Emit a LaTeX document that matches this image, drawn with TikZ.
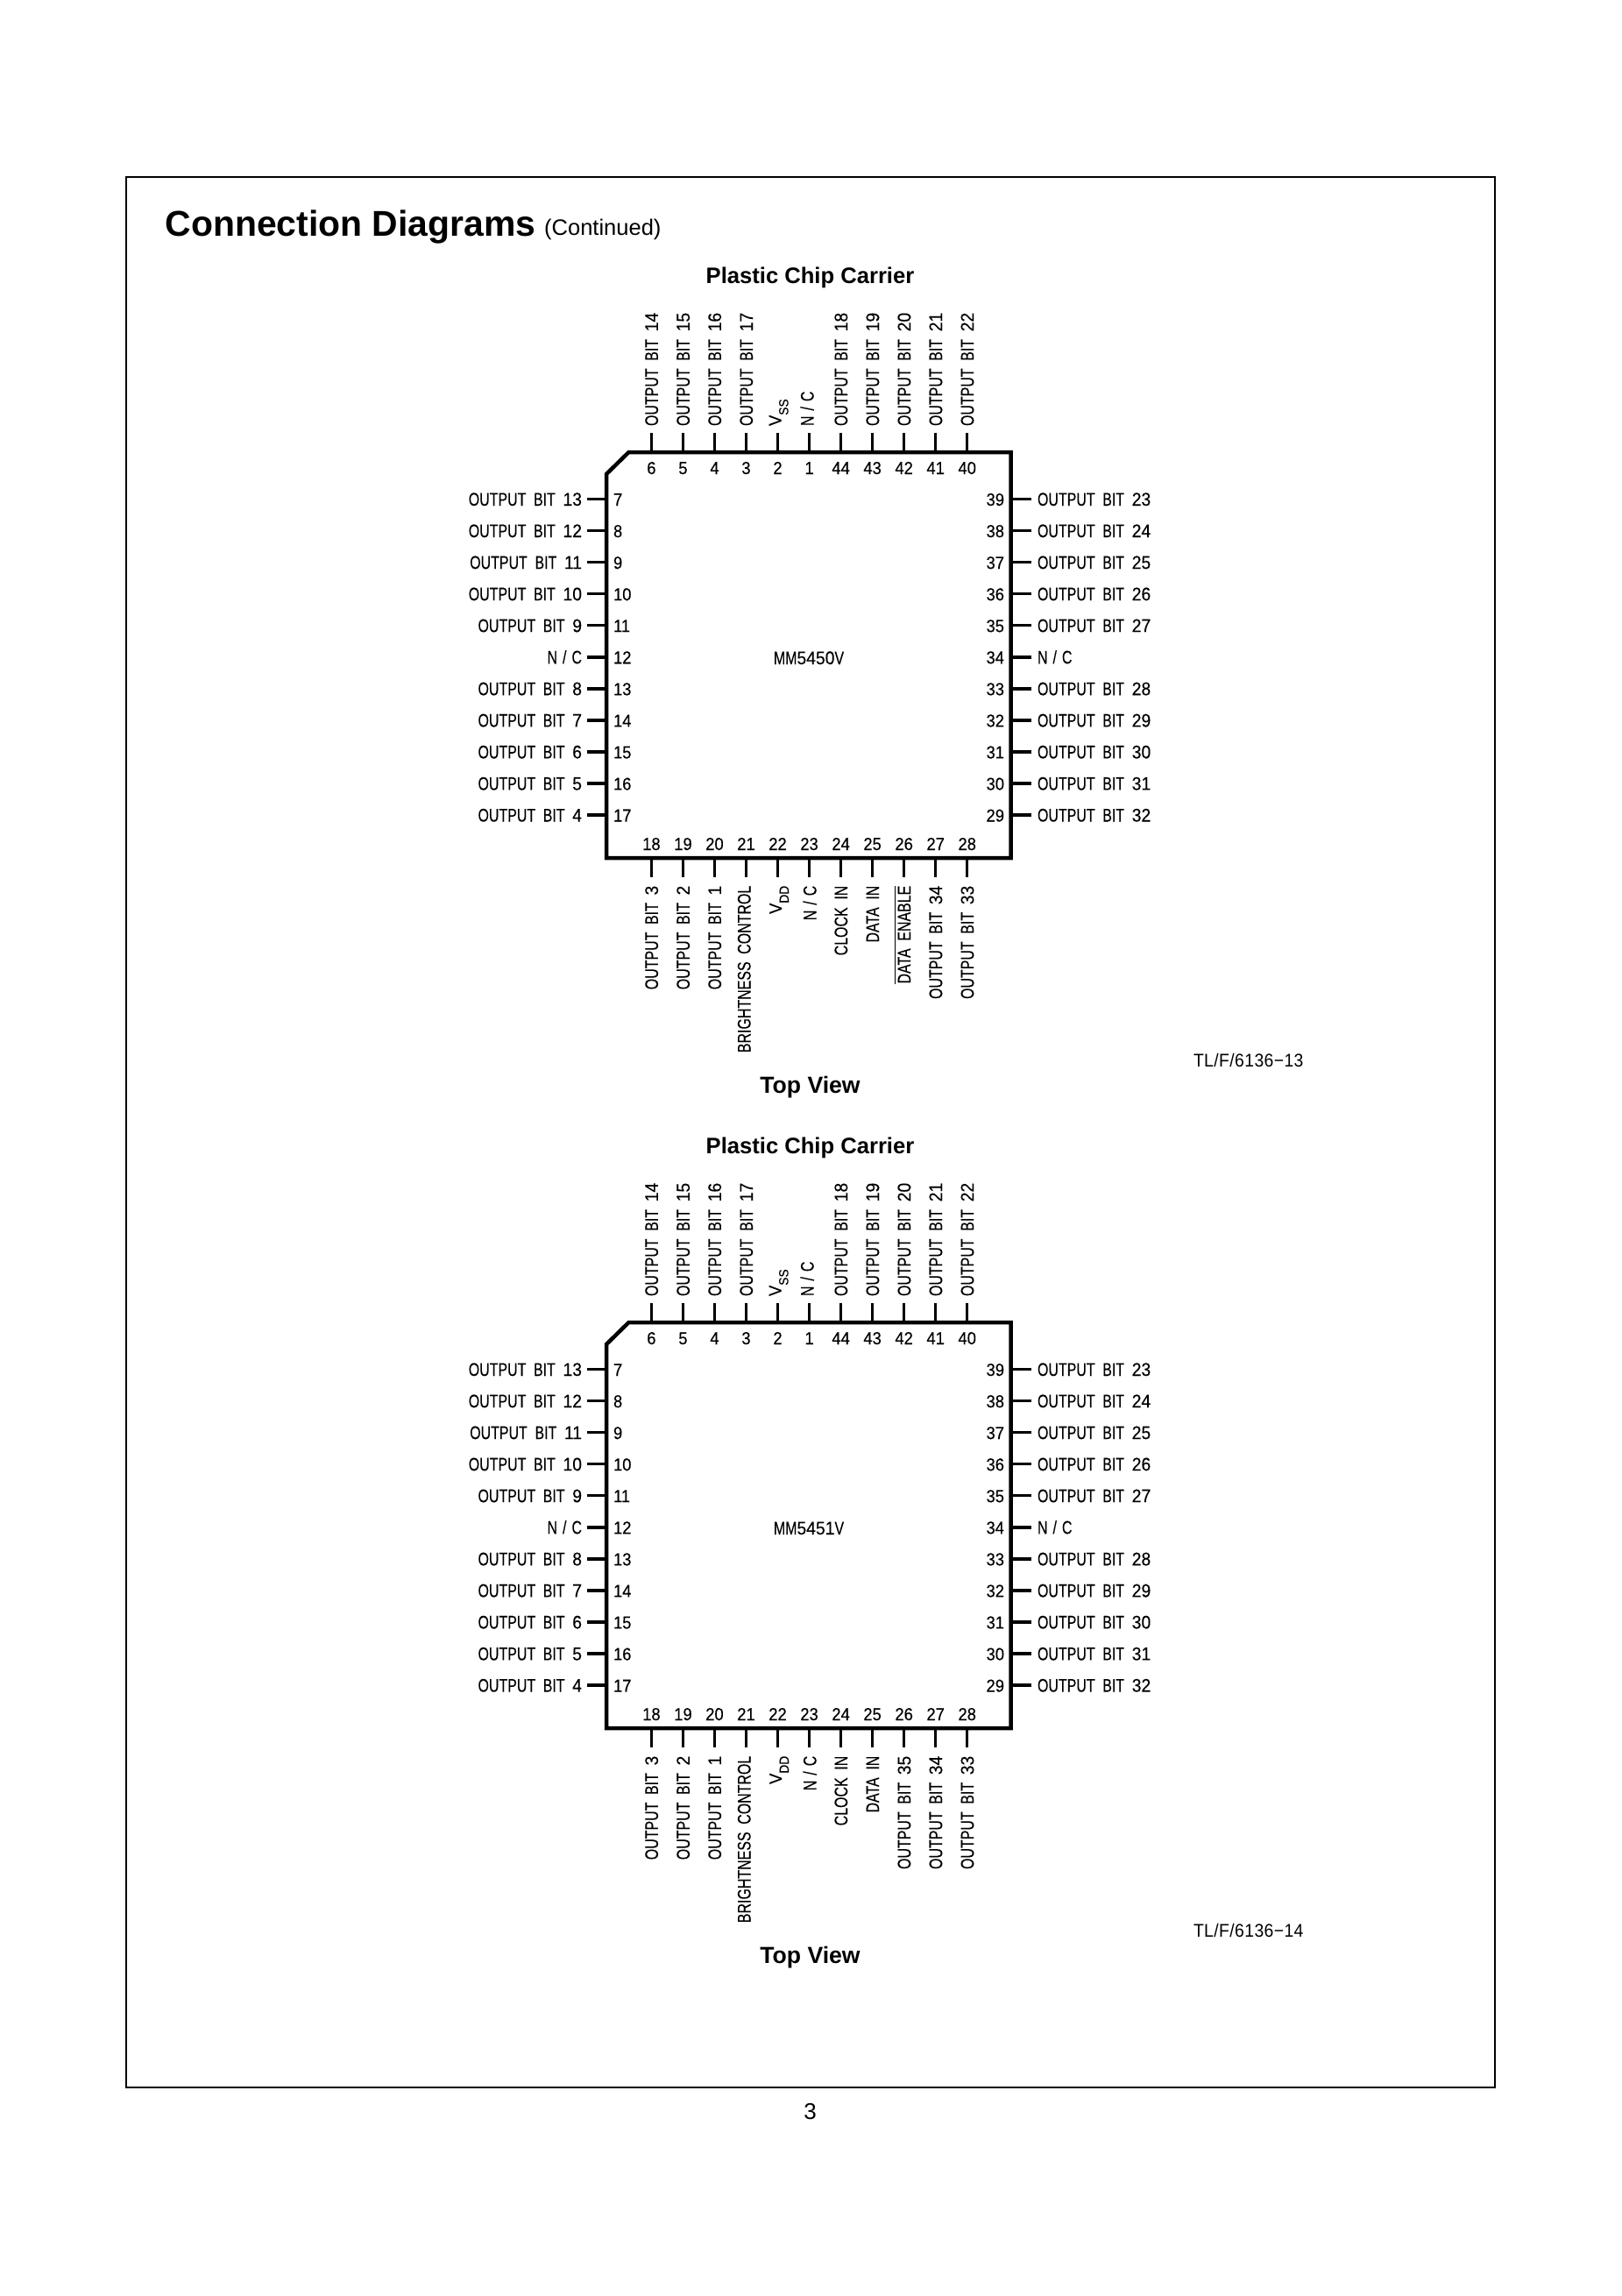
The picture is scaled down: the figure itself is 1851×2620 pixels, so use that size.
\documentclass[tikz,border=0pt]{standalone}
\usepackage{fontspec}
\setmainfont{Liberation Sans}
\newfontfamily\cad[FakeStretch=0.76,WordSpace=1.95,FakeBold=0.2]{Liberation Sans}
\newfontfamily\cadn[FakeStretch=0.92,FakeBold=0.2]{Liberation Sans}
\newfontfamily\cadt[FakeStretch=0.92,LetterSpace=2]{Liberation Sans}
\newcommand{\OB}[1]{OUTPUT BIT {\cadn #1}}
\newcommand{\NC}{N\kern6pt/\kern6pt C}
\newcommand{\VS}[1]{{\cadn\fontsize{20}{20}\selectfont V}\raisebox{-8pt}{\cadn\fontsize{15}{15}\selectfont #1}}
\newcommand{\OVL}[1]{\vbox{\hrule height 1.2pt\kern 3pt\hbox{#1}}}
\tikzset{
  x=1pt,y=-1pt,
  body/.style={line width=4.5pt,line join=miter,black},
  pin/.style={line width=3.5pt,black},
  frameline/.style={line width=2pt,black},
  cadtext/.style={inner sep=0pt,outer sep=0pt,font=\cad\fontsize{21}{24}\selectfont},
  tagtext/.style={inner sep=0pt,outer sep=0pt,anchor=base west,font=\cadt\fontsize{21}{24}\selectfont},
  pinno/.style={inner sep=0pt,outer sep=0pt,font=\cadn\fontsize{20}{24}\selectfont},
  headtext/.style={inner sep=0pt,outer sep=0pt,anchor=base,font=\bfseries\fontsize{25.6}{30}\selectfont},
}
\newcommand{\chip}[4]{%
  % #1 prefix, #2 vertical offset, #3 digits of the part number, #4 label of pin 26
  \begin{scope}[shift={(0,#2)}]
    \node[headtext] (#1title) at (924.5,323) {Plastic Chip Carrier};
    \draw[body] (692,541) -- (717.5,516) -- (1153.5,516) -- (1153.5,979) -- (692,979) -- cycle;
    \node[cadtext,anchor=base] (#1part) at (923,758) {MM{\cadn #3}V};
    \foreach \n/\l/\o [count=\i from 0] in {6/{\OB{14}}/7.5,5/{\OB{15}}/7.5,4/{\OB{16}}/7.5,3/{\OB{17}}/7.5,2/{\VS{SS}}/4,1/{\NC}/5,44/{\OB{18}}/7.5,43/{\OB{19}}/7.5,42/{\OB{20}}/7.5,41/{\OB{21}}/7.5,40/{\OB{22}}/7.5}{
      \pgfmathsetmacro{\px}{743.4+36.03*\i}
      \coordinate (#1a\n) at (\px,516);
      \coordinate (#1b\n) at (\px,494);
      \draw[pin] (#1a\n) -- (#1b\n);
      \node[pinno,anchor=base] (#1n\n) at (\px,541) {\n};
      \node[cadtext,rotate=90,anchor=base west] (#1l\n) at (\px+\o,486) {\l};
    }
    \foreach \n/\l/\o [count=\i from 0] in {18/{\OB{3}}/7.5,19/{\OB{2}}/7.5,20/{\OB{1}}/7.5,21/{BRIGHTNESS CONTROL}/5,22/{\VS{DD}}/4.5,23/{\NC}/8,24/{CLOCK IN}/7.5,25/{DATA IN}/7.5,26/{#4}/7.5,27/{\OB{34}}/7.5,28/{\OB{33}}/7.5}{
      \pgfmathsetmacro{\px}{743.4+36.03*\i}
      \coordinate (#1a\n) at (\px,979);
      \coordinate (#1b\n) at (\px,1001);
      \draw[pin] (#1a\n) -- (#1b\n);
      \node[pinno,anchor=base] (#1n\n) at (\px,970) {\n};
      \node[cadtext,rotate=90,anchor=base east] (#1l\n) at (\px+\o,1010.7) {\l};
    }
    \foreach \n/\l [count=\i from 0] in {7/{\OB{13}},8/{\OB{12}},9/{\OB{11}},10/{\OB{10}},11/{\OB{9}},12/{\NC},13/{\OB{8}},14/{\OB{7}},15/{\OB{6}},16/{\OB{5}},17/{\OB{4}}}{
      \pgfmathsetmacro{\py}{569.5+36.05*\i}
      \coordinate (#1a\n) at (692,\py);
      \coordinate (#1b\n) at (670,\py);
      \draw[pin] (#1a\n) -- (#1b\n);
      \node[pinno,anchor=base west] (#1n\n) at (700,\py+7.5) {\n};
      \node[cadtext,anchor=base east] (#1l\n) at (664,\py+7.5) {\l};
    }
    \foreach \n/\l [count=\i from 0] in {39/{\OB{23}},38/{\OB{24}},37/{\OB{25}},36/{\OB{26}},35/{\OB{27}},34/{\NC},33/{\OB{28}},32/{\OB{29}},31/{\OB{30}},30/{\OB{31}},29/{\OB{32}}}{
      \pgfmathsetmacro{\py}{569.5+36.05*\i}
      \coordinate (#1a\n) at (1153.5,\py);
      \coordinate (#1b\n) at (1176.5,\py);
      \draw[pin] (#1a\n) -- (#1b\n);
      \node[pinno,anchor=base east] (#1n\n) at (1146,\py+7.5) {\n};
      \node[cadtext,anchor=base west] (#1l\n) at (1184,\py+7.5) {\l};
    }
    \node[headtext,font=\bfseries\fontsize{26.6}{30}\selectfont] (#1view) at (924.5,1247.5) {Top View};
  \end{scope}
}
\begin{document}
\begin{tikzpicture}
  \useasboundingbox (0,0) rectangle (1851,2620);
  \fill[white] (0,0) rectangle (1851,2620);
  \draw[frameline] (143.5,202) rectangle (1705.5,2381.5);
  \node[inner sep=0pt,anchor=base west,font=\bfseries\fontsize{40.9}{48}\selectfont] (heading) at (188.5,269) {Connection Diagrams};
  \node[inner sep=0pt,anchor=base west,font=\fontsize{25.5}{30}\selectfont] (cont) at (621,268) {(Continued)};
  \chip{A}{0}{5450}{\OVL{DATA ENABLE}}
  \chip{B}{993}{5451}{\OB{35}}
  \node[tagtext] (tagA) at (1362,1217) {TL/F/6136−13};
  \node[tagtext] (tagB) at (1362,2210) {TL/F/6136−14};
  \node[inner sep=0pt,anchor=base,font=\fontsize{26}{30}\selectfont] (page) at (924.5,2418) {3};
\end{tikzpicture}
\end{document}
